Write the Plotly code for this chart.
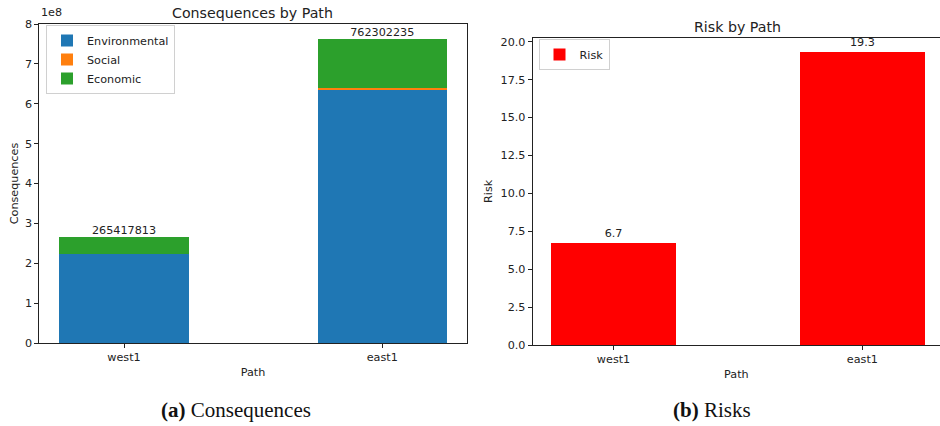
import plotly.graph_objects as go

# Paths and per-category consequence values
paths = ["west1", "east1"]
environmental = [222_600_000, 636_100_000]
social = [0, 3_400_000]
economic = [42_817_813, 122_802_235]

# Risk per path
risk = [6.7, 19.3]

# Left-axis tick labels (values shown in units of 1e8)
cons_tick_vals = [0, 1e8, 2e8, 3e8, 4e8, 5e8, 6e8, 7e8, 8e8]
cons_tick_text = ["0", "1", "2", "3", "4", "5", "6", "7", "8"]
risk_tick_vals = [0, 2.5, 5, 7.5, 10, 12.5, 15, 17.5, 20]
risk_tick_text = ["0.0", "2.5", "5.0", "7.5", "10.0", "12.5", "15.0", "17.5", "20.0"]

BLUE, ORANGE, GREEN, RED = "#1f77b4", "#ff7f0e", "#2ca02c", "#ff0000"
FONT = "DejaVu Sans"
SERIF = "Liberation Serif"
FS = 11.2
W, H = 940, 426

totals = [e + s + c for e, s, c in zip(environmental, social, economic)]

fig = go.Figure()
for name, vals, col in [("Environmental", environmental, BLUE),
                        ("Social", social, ORANGE),
                        ("Economic", economic, GREEN)]:
    fig.add_trace(go.Bar(x=paths, y=vals, name=name, marker_color=col,
                         marker_line_width=0, width=0.5,
                         xaxis="x", yaxis="y", legend="legend"))

fig.add_trace(go.Scatter(x=paths, y=totals, mode="text",
                         text=[str(t) for t in totals],
                         textposition="top center",
                         textfont=dict(family=FONT, size=FS, color="#222"),
                         showlegend=False, hoverinfo="skip",
                         cliponaxis=False, xaxis="x", yaxis="y"))

fig.add_trace(go.Bar(x=paths, y=risk, name="Risk", marker_color=RED,
                     marker_line_width=0, width=0.5,
                     text=[f"{v:.1f}" for v in risk], textposition="outside",
                     textfont=dict(family=FONT, size=FS, color="#222"),
                     cliponaxis=False,
                     xaxis="x2", yaxis="y2", legend="legend2"))


def px_x(p):
    return p / W


def px_y(p):
    return 1 - p / H


axis_common = dict(showgrid=False, zeroline=False, showline=True,
                   automargin=False,
                   linecolor="#222", linewidth=1, ticks="outside",
                   ticklen=4, tickcolor="#222",
                   tickfont=dict(family=FONT, size=FS, color="#222"))
title_font = dict(family=FONT, size=FS, color="#222")

fig.update_layout(
    width=W, height=H,
    margin=dict(l=0, r=0, t=0, b=0),
    paper_bgcolor="white", plot_bgcolor="white",
    barmode="stack",
    font=dict(family=FONT, size=FS, color="#222"),
    xaxis=dict(domain=[px_x(39.3), px_x(466.7)], range=[-0.328, 1.327],
               anchor="y", mirror=True,
               title=dict(text="Path", standoff=4, font=title_font),
               **axis_common),
    yaxis=dict(domain=[px_y(343), px_y(24)], range=[0, 8e8],
               anchor="x", mirror=True,
               tickvals=cons_tick_vals, ticktext=cons_tick_text,
               title=dict(text="Consequences", standoff=4, font=title_font),
               **axis_common),
    xaxis2=dict(domain=[px_x(532.7), 1.0], range=[-0.325, 1.312],
                anchor="y2", mirror=True,
                title=dict(text="Path", standoff=4, font=title_font),
                **axis_common),
    yaxis2=dict(domain=[px_y(345), px_y(37.7)], range=[0, 20.265],
                anchor="x2", mirror=False,
                tickvals=risk_tick_vals, ticktext=risk_tick_text,
                title=dict(text="Risk", standoff=5, font=title_font),
                **axis_common),
    legend=dict(x=px_x(46), y=px_y(25), xanchor="left", yanchor="top",
                bgcolor="rgba(255,255,255,0.8)", bordercolor="#d0d0d0",
                borderwidth=1, traceorder="normal", tracegroupgap=0,
                font=dict(family=FONT, size=FS, color="#222")),
    legend2=dict(x=px_x(538.5), y=px_y(39), xanchor="left", yanchor="top",
                 bgcolor="rgba(255,255,255,0.8)", bordercolor="#d0d0d0",
                 borderwidth=1,
                 font=dict(family=FONT, size=FS, color="#222")),
    annotations=[
        dict(text="Consequences by Path", x=(px_x(39.3) + px_x(466.7)) / 2,
             y=px_y(23), xref="paper", yref="paper", xanchor="center",
             yanchor="bottom", showarrow=False,
             font=dict(family=FONT, size=14.2, color="#222")),
        dict(text="Risk by Path", x=px_x(737), y=px_y(37), xref="paper",
             yref="paper", xanchor="center", yanchor="bottom",
             showarrow=False, font=dict(family=FONT, size=14.2, color="#222")),
        dict(text="1e8", x=px_x(39.3), y=px_y(21), xref="paper", yref="paper",
             xanchor="left", yanchor="bottom", showarrow=False,
             font=dict(family=FONT, size=FS, color="#222")),
        dict(text="<b>(a)</b> Consequences", x=px_x(236), y=px_y(410),
             xref="paper", yref="paper", xanchor="center", yanchor="middle",
             showarrow=False, font=dict(family=SERIF, size=21, color="#111")),
        dict(text="<b>(b)</b> Risks", x=px_x(712), y=px_y(410),
             xref="paper", yref="paper", xanchor="center", yanchor="middle",
             showarrow=False, font=dict(family=SERIF, size=21, color="#111")),
    ],
)

fig.write_html("out.html")
